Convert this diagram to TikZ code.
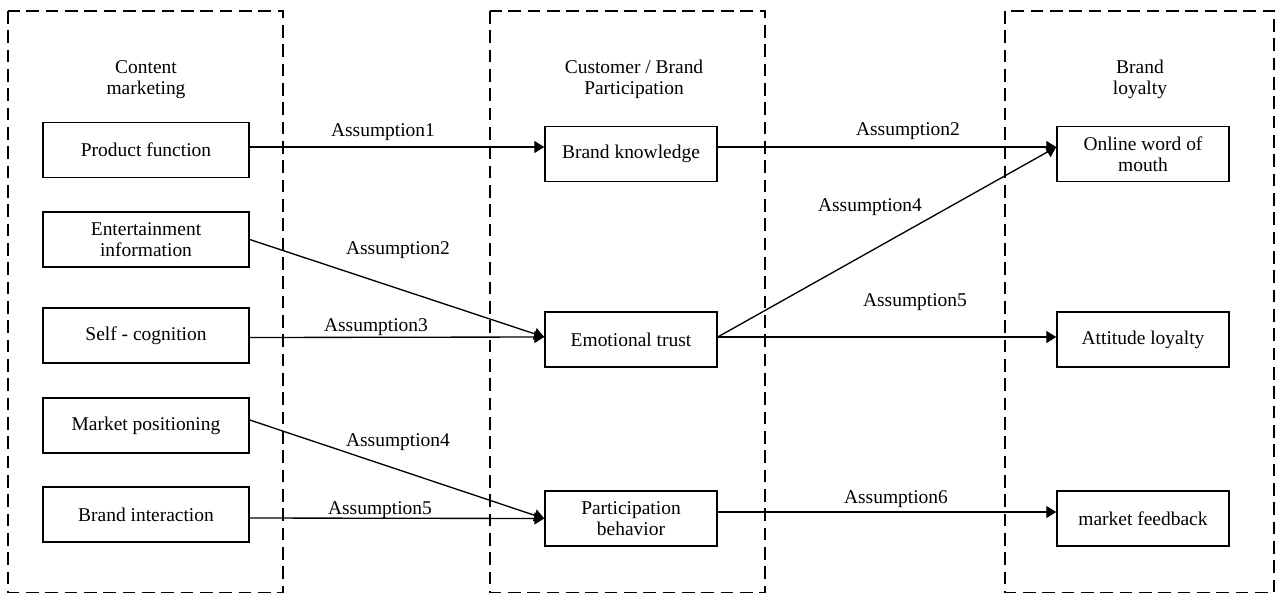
\documentclass[tikz,border=0pt]{standalone}
\usepackage{fontspec}
\setmainfont{Liberation Serif}
\usetikzlibrary{arrows.meta,calc}
\tikzset{
  boxL/.style={draw,line width=1.1pt,minimum width=154.5pt,minimum height=41.25pt,inner sep=0pt,align=center},
  boxM/.style={draw,line width=1.1pt,minimum width=129pt,minimum height=41.25pt,inner sep=0pt,align=center},
  frame/.style={draw,line width=1.1pt,dash pattern=on 9.5pt off 5pt},
  head/.style={align=center,inner sep=0pt},
  lab/.style={inner sep=0pt},
  conn/.style={line width=1pt,-{Triangle[length=7.5pt,width=9pt]}}
}
\begin{document}
\begin{tikzpicture}[x=0.75pt,y=-0.75pt,every node/.style={font=\fontsize{14.6}{15.75}\selectfont}]
\useasboundingbox (0,0) rectangle (1279,594);
% dashed frames
\draw[frame] (8,11) rectangle (283,592.5);
\draw[frame] (490,11) rectangle (765,592.5);
\draw[frame] (1005,11) rectangle (1274,592.5);
% headers
\node[head] (h1) at (146,79.5) {Content\\marketing};
\node[head] (h2) at (634,79.5) {Customer / Brand\\Participation};
\node[head] (h3) at (1140,79.5) {Brand\\loyalty};
% left boxes
\node[boxL] (pf) at (146,150) {Product function};
\node[boxL] (ei) at (146,239.5) {Entertainment\\information};
\node[boxL] (sc) at (146,335.5) {Self - cognition};
\node[boxL] (mp) at (146,425.5) {Market positioning};
\node[boxL] (bi) at (146,514.5) {Brand interaction};
% middle boxes
\node[boxM] (bk) at (631,154) {Brand knowledge};
\node[boxM] (et) at (631,339.5) {Emotional trust};
\node[boxM] (pb) at (631,518.5) {Participation\\behavior};
% right boxes
\node[boxM] (ow) at (1143,154) {Online word of\\mouth};
\node[boxM] (al) at (1143,339.5) {Attitude loyalty};
\node[boxM] (mf) at (1143,518.5) {market feedback};
% connectors
\draw[conn] ($(pf.east)+(0,-3)$) -- ($(bk.west)+(0,-7)$);
\draw[conn] (ei.east) -- ($(et.west)+(0,-2.5)$);
\draw[conn] ($(sc.east)+(0,2)$) -- ($(et.west)+(0,-2.5)$);
\draw[conn] ($(mp.east)+(0,-5.5)$) -- (pb.west);
\draw[conn] ($(bi.east)+(0,3.5)$) -- (pb.west);
\draw[conn] ($(bk.east)+(0,-7)$) -- ($(ow.west)+(0,-7)$);
\draw[conn] ($(et.east)+(0,-2.5)$) -- ($(ow.west)+(0,-7)$);
\draw[conn] ($(et.east)+(0,-2.5)$) -- ($(al.west)+(0,-2.5)$);
\draw[conn] ($(pb.east)+(0,-6.5)$) -- ($(mf.west)+(0,-6.5)$);
% labels
\node[lab] (l1) at (383,132.5) {Assumption1};
\node[lab] (l2) at (398,250.5) {Assumption2};
\node[lab] (l3) at (376,327.5) {Assumption3};
\node[lab] (l4) at (398,442.5) {Assumption4};
\node[lab] (l5) at (380,510.5) {Assumption5};
\node[lab] (r2) at (908,131.5) {Assumption2};
\node[lab] (r4) at (870,207.5) {Assumption4};
\node[lab] (r5) at (915,302.5) {Assumption5};
\node[lab] (r6) at (896,499.5) {Assumption6};
\end{tikzpicture}
\end{document}
